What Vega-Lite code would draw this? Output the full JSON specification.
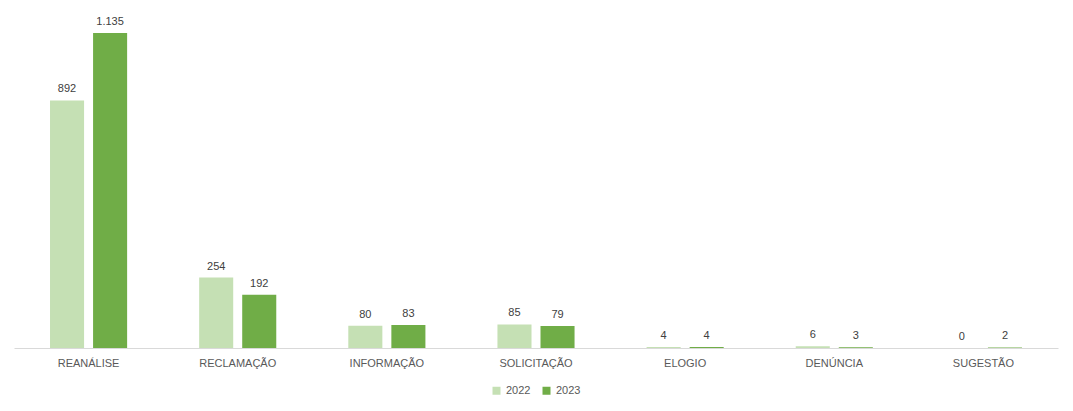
{
  "$schema": "https://vega.github.io/schema/vega-lite/v6.json",
  "width": 1044,
  "height": 333,
  "padding": {"left": 14, "top": 15, "right": 15, "bottom": 10},
  "background": "white",
  "config": {
    "view": {"stroke": null},
    "font": "Liberation Sans",
    "axis": {"labelFont": "Liberation Sans", "labelColor": "#595959", "labelFontSize": 11},
    "legend": {"layout": {"bottom": {"anchor": "middle"}}}
  },
  "data": {
    "values": [
      {"categoria": "REANÁLISE", "ano": "2022", "valor": 892, "rotulo": "892"},
      {"categoria": "REANÁLISE", "ano": "2023", "valor": 1135, "rotulo": "1.135"},
      {"categoria": "RECLAMAÇÃO", "ano": "2022", "valor": 254, "rotulo": "254"},
      {"categoria": "RECLAMAÇÃO", "ano": "2023", "valor": 192, "rotulo": "192"},
      {"categoria": "INFORMAÇÃO", "ano": "2022", "valor": 80, "rotulo": "80"},
      {"categoria": "INFORMAÇÃO", "ano": "2023", "valor": 83, "rotulo": "83"},
      {"categoria": "SOLICITAÇÃO", "ano": "2022", "valor": 85, "rotulo": "85"},
      {"categoria": "SOLICITAÇÃO", "ano": "2023", "valor": 79, "rotulo": "79"},
      {"categoria": "ELOGIO", "ano": "2022", "valor": 4, "rotulo": "4"},
      {"categoria": "ELOGIO", "ano": "2023", "valor": 4, "rotulo": "4"},
      {"categoria": "DENÚNCIA", "ano": "2022", "valor": 6, "rotulo": "6"},
      {"categoria": "DENÚNCIA", "ano": "2023", "valor": 3, "rotulo": "3"},
      {"categoria": "SUGESTÃO", "ano": "2022", "valor": 0, "rotulo": "0"},
      {"categoria": "SUGESTÃO", "ano": "2023", "valor": 2, "rotulo": "2"}
    ]
  },
  "encoding": {
    "x": {
      "field": "categoria",
      "type": "nominal",
      "sort": null,
      "scale": {"paddingInner": 0.483, "paddingOuter": 0.2415},
      "axis": {
        "title": null,
        "labelAngle": 0,
        "ticks": false,
        "domainColor": "#D9D9D9",
        "labelPadding": 9,
        "grid": false
      }
    },
    "xOffset": {
      "field": "ano",
      "type": "nominal",
      "scale": {"paddingInner": 0.209, "paddingOuter": 0}
    },
    "y": {
      "field": "valor",
      "type": "quantitative",
      "scale": {"domain": [0, 1200], "nice": false},
      "axis": null
    }
  },
  "layer": [
    {
      "mark": {"type": "bar"},
      "encoding": {
        "color": {
          "field": "ano",
          "type": "nominal",
          "scale": {"domain": ["2022", "2023"], "range": ["#C5E0B4", "#70AD47"]},
          "legend": {
            "title": null,
            "orient": "bottom",
            "direction": "horizontal",
            "symbolType": "square",
            "symbolSize": 64,
            "symbolStrokeWidth": 0,
            "labelFontSize": 11,
            "labelColor": "#595959",
            "labelFont": "Liberation Sans",
            "columnPadding": 10,
            "offset": 17
          }
        }
      }
    },
    {
      "mark": {"type": "text", "dy": -11, "fontSize": 11, "color": "#404040", "font": "Liberation Sans"},
      "encoding": {"text": {"field": "rotulo"}}
    }
  ]
}
